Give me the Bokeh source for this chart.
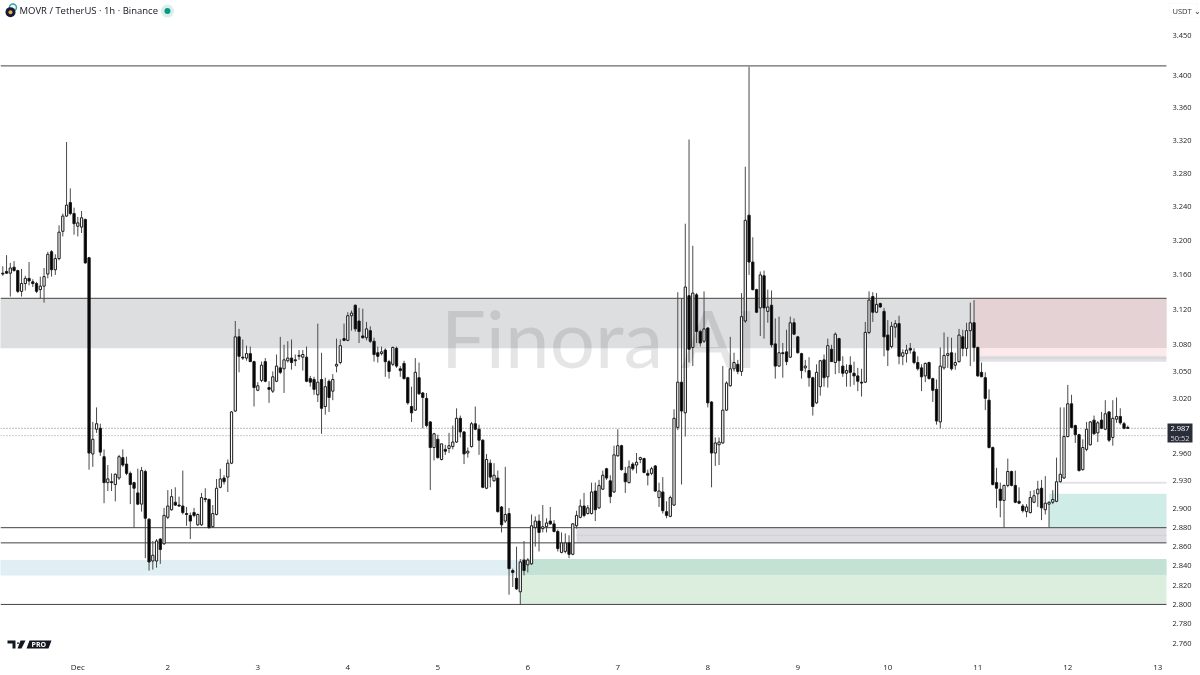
from bokeh.plotting import figure
from bokeh.embed import file_html
from bokeh.resources import INLINE
from bokeh.models import FixedTicker, NumeralTickFormatter, Range1d, Label, PolyAnnotation, ColumnDataSource

opens = [
3.162,3.164,3.162,3.169,3.165,3.141,3.150,3.156,3.152,3.150,
3.143,3.147,3.161,3.187,3.166,3.179,3.211,3.229,3.245,3.232,
3.217,3.216,3.225,3.180,2.959,2.986,2.987,2.956,2.928,2.929,
2.926,2.933,2.955,2.948,2.938,2.928,2.917,2.905,2.940,2.889,
2.845,2.845,2.868,2.863,2.891,2.899,2.907,2.904,2.903,2.895,
2.893,2.896,2.883,2.883,2.911,2.910,2.881,2.894,2.923,2.933,
2.934,2.949,3.006,3.089,3.066,3.065,3.070,3.061,3.029,3.040,
3.061,3.032,3.028,3.039,3.054,3.053,3.062,3.065,3.063,3.067,
3.066,3.066,3.042,3.041,3.024,3.041,3.011,3.039,3.028,3.056,
3.060,3.087,3.085,3.113,3.125,3.107,3.090,3.088,3.096,3.084,
3.071,3.070,3.074,3.061,3.058,3.076,3.053,3.059,3.043,3.011,
3.007,3.043,3.026,3.020,2.994,2.966,2.975,2.953,2.964,2.965,
2.967,2.972,2.998,2.983,2.960,2.967,2.992,2.986,2.974,2.922,
2.949,2.930,2.933,2.902,2.887,2.895,2.835,2.827,2.813,2.846,
2.841,2.842,2.880,2.887,2.879,2.881,2.887,2.884,2.876,2.854,
2.855,2.864,2.852,2.882,2.891,2.903,2.895,2.895,2.919,2.901,
2.921,2.943,2.930,2.918,2.957,2.968,2.938,2.928,2.948,2.947,
2.953,2.954,2.938,2.938,2.946,2.912,2.918,2.897,2.892,2.904,
2.988,3.038,3.004,3.136,3.077,3.137,3.095,3.084,3.099,3.016,
2.960,2.969,2.971,3.007,3.034,3.053,3.058,3.050,3.107,3.230,
3.175,3.143,3.122,3.159,3.118,3.125,3.081,3.056,3.071,3.072,
3.066,3.105,3.089,3.070,3.054,3.051,3.043,3.015,3.033,3.063,
3.044,3.075,3.060,3.087,3.056,3.048,3.057,3.048,3.045,3.038,
3.038,3.094,3.135,3.117,3.127,3.118,3.091,3.078,3.100,3.104,
3.067,3.070,3.076,3.072,3.060,3.054,3.045,3.060,3.042,3.030,
2.994,3.054,3.068,3.071,3.057,3.061,3.089,3.076,3.096,3.105,
3.077,3.049,3.043,3.018,2.966,2.928,2.921,2.909,2.925,2.940,
2.925,2.908,2.903,2.897,2.896,2.907,2.916,2.922,2.899,2.905,
2.907,2.908,2.929,2.933,2.978,3.014,2.990,2.980,2.942,2.964,
2.969,2.996,2.982,2.996,2.986,3.005,2.977,2.997,3.000,2.992,
2.988]

highs = [
3.170,3.183,3.174,3.176,3.166,3.167,3.159,3.175,3.155,3.152,
3.158,3.168,3.187,3.189,3.184,3.218,3.232,3.318,3.262,3.239,
3.228,3.235,3.226,3.181,2.994,3.010,2.992,2.964,2.947,2.938,
2.938,2.958,2.964,2.956,2.940,2.929,2.943,2.945,2.942,2.890,
2.866,2.868,2.869,2.901,2.920,2.921,2.923,2.913,2.941,2.902,
2.896,2.901,2.895,2.917,2.922,2.911,2.904,2.932,2.943,2.936,
2.953,3.006,3.107,3.098,3.086,3.079,3.078,3.062,3.038,3.061,
3.065,3.039,3.050,3.069,3.089,3.080,3.084,3.086,3.069,3.074,
3.074,3.078,3.045,3.044,3.104,3.071,3.043,3.041,3.047,3.087,
3.086,3.104,3.117,3.119,3.126,3.122,3.121,3.106,3.101,3.088,
3.078,3.078,3.076,3.063,3.078,3.078,3.056,3.062,3.044,3.033,
3.065,3.060,3.027,3.026,2.995,2.982,2.980,2.970,2.969,2.982,
2.990,3.009,3.001,2.984,2.966,2.994,3.011,2.991,2.975,2.959,
2.953,2.949,2.941,2.903,2.945,2.901,2.837,2.860,2.847,2.866,
2.848,2.894,2.892,2.894,2.904,2.890,2.902,2.888,2.878,2.875,
2.874,2.872,2.885,2.898,2.910,2.917,2.904,2.928,2.928,2.931,
2.941,2.944,2.936,2.968,2.986,2.969,2.945,2.952,2.950,2.960,
2.956,2.955,2.942,2.945,2.947,2.928,2.934,2.908,2.914,3.008,
3.140,3.133,3.220,3.321,3.194,3.139,3.097,3.141,3.100,3.017,
2.977,2.977,3.056,3.039,3.089,3.071,3.063,3.139,3.288,3.411,
3.204,3.144,3.164,3.165,3.143,3.142,3.110,3.112,3.082,3.097,
3.112,3.110,3.090,3.071,3.063,3.066,3.044,3.058,3.063,3.069,
3.087,3.080,3.094,3.088,3.067,3.058,3.067,3.061,3.054,3.053,
3.106,3.141,3.140,3.139,3.128,3.122,3.108,3.106,3.108,3.113,
3.075,3.080,3.082,3.076,3.067,3.058,3.060,3.061,3.043,3.041,
3.077,3.094,3.089,3.088,3.071,3.098,3.097,3.105,3.128,3.131,
3.078,3.060,3.049,3.030,2.967,2.944,2.928,2.926,2.954,2.941,
2.941,2.923,2.905,2.905,2.919,2.920,2.930,2.931,2.935,2.908,
2.920,2.955,3.010,3.010,3.035,3.024,2.991,2.981,2.975,2.994,
2.995,3.001,2.995,3.005,3.018,3.006,3.018,3.021,3.009,2.994,
2.990]

lows = [
3.159,3.161,3.135,3.164,3.139,3.135,3.142,3.148,3.146,3.139,
3.133,3.128,3.156,3.158,3.160,3.177,3.205,3.228,3.230,3.207,
3.205,3.209,3.173,2.942,2.945,2.982,2.957,2.906,2.919,2.919,
2.908,2.931,2.945,2.936,2.905,2.880,2.904,2.897,2.848,2.835,
2.836,2.838,2.842,2.862,2.889,2.898,2.903,2.902,2.894,2.882,
2.868,2.891,2.882,2.882,2.907,2.879,2.880,2.893,2.922,2.926,
2.918,2.948,3.005,3.049,3.063,3.062,3.061,3.011,3.028,3.038,
3.038,3.015,3.026,3.038,3.047,3.026,3.060,3.052,3.056,3.063,
3.051,3.038,3.033,3.024,3.016,2.981,3.002,3.005,3.018,3.049,
3.058,3.084,3.084,3.096,3.095,3.082,3.087,3.085,3.082,3.061,
3.060,3.068,3.044,3.042,3.056,3.054,3.044,3.041,3.013,2.994,
3.006,3.024,2.987,2.988,2.920,2.952,2.954,2.952,2.958,2.960,
2.964,2.971,2.977,2.948,2.955,2.966,2.985,2.958,2.922,2.921,
2.923,2.929,2.896,2.875,2.885,2.810,2.818,2.815,2.800,2.830,
2.833,2.841,2.860,2.855,2.875,2.875,2.883,2.875,2.855,2.853,
2.853,2.848,2.851,2.879,2.890,2.891,2.894,2.894,2.887,2.900,
2.920,2.931,2.906,2.917,2.956,2.941,2.917,2.927,2.941,2.938,
2.949,2.938,2.925,2.936,2.918,2.902,2.895,2.890,2.891,2.903,
2.985,2.926,2.978,3.060,3.056,3.082,3.078,3.082,3.010,2.923,
2.946,2.947,2.970,3.006,3.033,3.050,3.047,3.045,3.105,3.160,
3.142,3.116,3.090,3.087,3.105,3.077,3.042,3.055,3.043,3.057,
3.065,3.091,3.070,3.042,3.049,3.033,3.001,3.014,3.023,3.033,
3.032,3.061,3.047,3.048,3.044,3.033,3.033,3.035,3.028,3.022,
3.037,3.092,3.106,3.116,3.122,3.067,3.056,3.076,3.088,3.058,
3.057,3.060,3.070,3.058,3.051,3.028,3.038,3.041,3.016,2.991,
2.987,3.052,3.054,3.051,3.052,3.060,3.067,3.067,3.056,3.061,
3.044,3.044,3.007,2.965,2.925,2.901,2.891,2.880,2.923,2.924,
2.906,2.905,2.896,2.891,2.895,2.906,2.902,2.888,2.894,2.880,
2.905,2.907,2.928,2.932,2.977,2.987,2.971,2.940,2.941,2.962,
2.968,2.980,2.972,2.986,2.985,2.972,2.968,2.993,2.991,2.986,
2.987]

closes = [
3.161,3.162,3.168,3.165,3.141,3.150,3.156,3.153,3.150,3.141,
3.147,3.158,3.184,3.166,3.179,3.210,3.229,3.242,3.232,3.220,
3.221,3.227,3.174,2.960,2.975,2.992,2.961,2.928,2.932,2.928,
2.937,2.956,2.947,2.938,2.926,2.922,2.905,2.941,2.890,2.844,
2.851,2.866,2.857,2.893,2.903,2.913,2.904,2.903,2.896,2.894,
2.887,2.893,2.894,2.912,2.910,2.880,2.895,2.922,2.932,2.929,
2.949,3.005,3.089,3.067,3.065,3.070,3.061,3.032,3.034,3.057,
3.039,3.030,3.044,3.056,3.049,3.063,3.065,3.060,3.062,3.068,
3.069,3.039,3.038,3.030,3.038,3.009,3.033,3.021,3.041,3.058,
3.079,3.085,3.113,3.116,3.098,3.095,3.088,3.098,3.084,3.069,
3.067,3.072,3.061,3.050,3.077,3.056,3.051,3.042,3.015,3.004,
3.049,3.025,3.021,2.990,2.966,2.981,2.955,2.970,2.962,2.968,
2.972,2.998,2.983,2.959,2.962,2.992,2.986,2.974,2.923,2.953,
2.934,2.936,2.897,2.883,2.894,2.837,2.833,2.816,2.844,2.835,
2.846,2.882,2.887,2.875,2.881,2.885,2.884,2.876,2.858,2.864,
2.864,2.852,2.884,2.893,2.903,2.893,2.901,2.918,2.899,2.925,
2.936,2.933,2.913,2.958,2.968,2.942,2.929,2.945,2.943,2.950,
2.955,2.939,2.936,2.943,2.919,2.919,2.898,2.893,2.912,2.998,
3.038,3.006,3.146,3.075,3.139,3.095,3.082,3.098,3.015,2.960,
2.971,2.972,3.007,3.037,3.053,3.060,3.050,3.112,3.224,3.175,
3.143,3.117,3.160,3.122,3.123,3.080,3.056,3.071,3.070,3.061,
3.105,3.092,3.071,3.051,3.056,3.043,3.011,3.049,3.062,3.043,
3.079,3.061,3.092,3.062,3.048,3.051,3.049,3.045,3.039,3.037,
3.094,3.131,3.117,3.126,3.123,3.089,3.074,3.101,3.104,3.067,
3.071,3.074,3.074,3.060,3.053,3.044,3.059,3.042,3.029,2.995,
3.056,3.068,3.070,3.053,3.060,3.091,3.076,3.096,3.105,3.077,
3.045,3.044,3.020,2.966,2.926,2.922,2.909,2.925,2.940,2.925,
2.907,2.906,2.898,2.902,2.912,2.914,2.921,2.901,2.906,2.907,
2.910,2.929,2.937,2.978,3.014,2.988,2.980,2.941,2.966,2.986,
2.994,2.981,2.993,2.987,3.003,2.974,2.998,3.000,2.993,2.987,
2.987]

price_ticks = [3.45,3.40,3.36,3.32,3.28,3.24,3.20,3.16,3.12,3.08,3.05,3.02,
               2.96,2.93,2.90,2.88,2.86,2.84,2.82,2.80,2.78,2.76]
day_ticks = [20,44,68,92,116,140,164,188,212,236,260,284,308]
day_labels = ["Dec","2","3","4","5","6","7","8","9","10","11","12","13"]

# zones: start bar, top price, bottom price, colour
zone_start = [-2, 259, 260, 260, 153, -2, 138, 138, 279]
zone_top = [3.133, 3.133, 3.076, 3.068, 2.880, 2.846, 2.847, 2.830, 2.916]
zone_bottom = [3.076, 3.076, 3.068, 3.061, 2.864, 2.830, 2.830, 2.800, 2.880]
zone_color = ["#dddee0","#e5d2d4","#fde9e9","#e2e0e5","#dddde1","#e0eff3","#c3e2d3","#dcefdf","#cfece6"]

level_price = [3.412, 3.133, 2.880, 2.864, 2.800]
stripe_start = [153, 260, 282]
stripe_price = [2.872, 3.065, 2.928]
last_prices = [2.987, 2.979]
last_text = "2.987"
countdown = "50:52"

X_MIN, X_EDGE, X_MAX = -0.613, 310.32, 319.39
bars = list(range(len(opens)))
up = [c >= o for o, c in zip(opens, closes)]

p = figure(frame_width=1200, frame_height=655, width=1200, height=675,
           y_axis_type="log", y_axis_location="right",
           x_range=Range1d(X_MIN, X_MAX), y_range=Range1d(2.748, 3.4949),
           toolbar_location=None, output_backend="svg",
           min_border_left=0, min_border_top=0, min_border_right=0, min_border_bottom=20,
           background_fill_color="white", border_fill_color="white",
           styles={"position": "fixed", "left": "0px", "top": "0px"})
p.outline_line_color = None
p.grid.visible = False

ax = p.yaxis[0]
ax.fixed_location = X_EDGE
ax.ticker = FixedTicker(ticks=price_ticks)
ax.formatter = NumeralTickFormatter(format="0.000")
bx = p.xaxis[0]
bx.ticker = FixedTicker(ticks=day_ticks)
bx.major_label_overrides = dict(zip(day_ticks, day_labels))
for a in (ax, bx):
    a.axis_line_color = None
    a.major_tick_line_color = None
    a.minor_tick_line_color = None
    a.major_tick_out = 0
    a.major_tick_in = 0
    a.major_label_text_font = "Open Sans"
    a.major_label_text_color = "#222222"
ax.major_label_text_font_size = "7.5px"
bx.major_label_text_font_size = "8px"
ax.major_label_standoff = 6
bx.major_label_standoff = 5

p.quad(left=zone_start, right=[X_EDGE]*len(zone_start), top=zone_top, bottom=zone_bottom,
       fill_color=zone_color, line_color=None)
p.segment(x0=stripe_start, x1=[X_EDGE]*3, y0=stripe_price, y1=stripe_price,
          line_color=["#cfcfd5","#d2d0d8","#e4e0e8"], line_width=[1,1,2])
p.segment(x0=[X_MIN]*5, x1=[X_EDGE]*5, y0=level_price, y1=level_price, line_color="#444444", line_width=1)
p.segment(x0=[X_MIN]*2, x1=[X_EDGE]*2, y0=last_prices, y1=last_prices,
          line_color=["#777777","#999999"], line_width=1, line_dash="1 2")

src = ColumnDataSource(dict(x=bars, o=opens, h=highs, l=lows, c=closes,
                            top=[max(a, b) for a, b in zip(opens, closes)],
                            bot=[min(a, b) for a, b in zip(opens, closes)],
                            fill=["white" if u else "#000000" for u in up]))
p.segment(x0="x", x1="x", y0="l", y1="h", source=src, line_color="#4a4a4a", line_width=1)
p.vbar(x="x", width=0.6, top="top", bottom="bot", source=src,
       fill_color="fill", line_color="#1a1a1a", line_width=1)

H = 655
def lab(x, y, text, **kw):
    d = dict(x=x, y=H - y, x_units="screen", y_units="screen", text=text,
             text_font="Open Sans", text_baseline="middle", level="overlay")
    d.update(kw)
    p.add_layout(Label(**d))

def poly(xs, ys, color, **kw):
    d = dict(xs=xs, ys=[H - y for y in ys], xs_units="screen", ys_units="screen",
             fill_color=color, fill_alpha=1, line_color=None, level="annotation")
    d.update(kw)
    p.add_layout(PolyAnnotation(**d))

lab(600, 336, "Finora AI", text_font="Lato", text_font_size="80px",
    text_align="center", text_color="#000000", text_alpha=0.1)
lab(19, 10, "MOVR / TetherUS · 1h · Binance", text_font_size="9.5px", text_color="#131722")

# header icons, placed on the chart's own scales
p.scatter(x=[2.7], y=[3.486], size=7, fill_color=None, line_color="#2aa7a7", line_width=1.5)
p.scatter(x=[2.05], y=[3.4800], size=10, fill_color="#16193a", line_color=None)
p.scatter(x=[2.05], y=[3.4800], size=4, fill_color="#e8b33b", line_color=None)
p.scatter(x=[43.9], y=[3.4814], size=13, fill_color="#d8efec", line_color=None)
p.scatter(x=[43.9], y=[3.4814], size=6, fill_color="#089981", line_color=None)

# TradingView badge
poly([7, 15, 15, 12, 12, 7], [640, 640, 648, 648, 643, 643], "#131722")
poly([20, 25, 21, 17], [640, 640, 648, 648], "#131722")
poly([29, 51, 48, 26], [640, 640, 648, 648], "#131722")
lab(31, 644, "PRO", text_font_size="7px", text_font_style="bold", text_color="white")
lab(17.5, 641.5, "•", text_font_size="8px", text_color="#131722", text_align="center")

# price-scale furniture
poly([1169, 1197, 1197, 1169], [3, 3, 17, 17], "#ffffff", line_color="#eeeeee", line_width=1)
poly([1167, 1192, 1192, 1167], [423, 423, 442, 442], "#2a2e39")
lab(1172, 10, "USDT ⌄", text_font_size="7.5px", text_color="#333333")
lab(1179.5, 428, last_text, text_font_size="7.5px", text_color="#ffffff", text_align="center")
lab(1179.5, 437, countdown, text_font_size="7.5px", text_color="#d5d6da", text_align="center")

html = file_html(p, INLINE)
open("out.html", "w").write(html)
